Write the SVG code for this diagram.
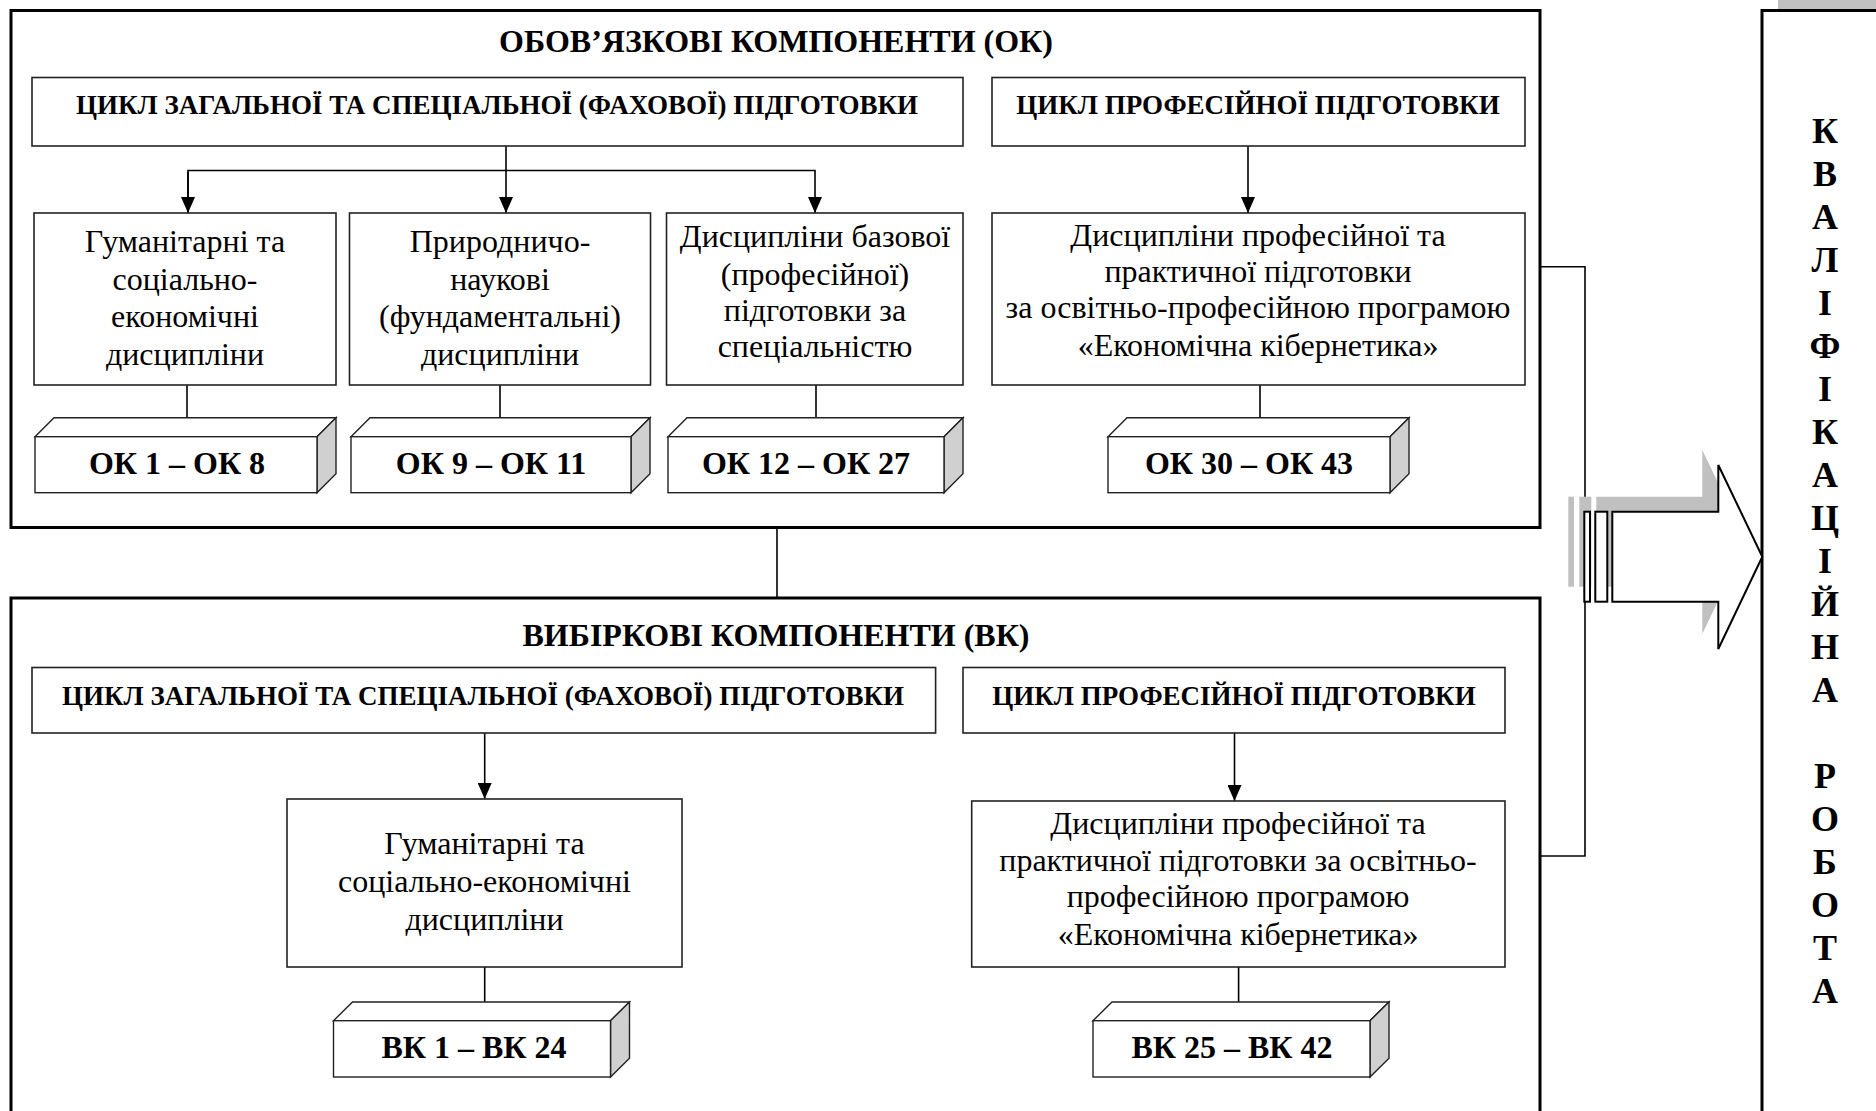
<svg xmlns="http://www.w3.org/2000/svg" width="1876" height="1111" viewBox="0 0 1876 1111">
<style>
.outer{fill:#fff;stroke:#000;stroke-width:3}
.box{fill:#fff;stroke:#222;stroke-width:1.6}
.face{fill:#fff;stroke:#222;stroke-width:1.4}
.side{fill:#d0d0d0;stroke:#222;stroke-width:1.4}
.ln{fill:none;stroke:#000;stroke-width:1.6}
.t{font-family:"Liberation Serif","Times New Roman",serif;fill:#000;text-anchor:middle}
.h1{font-size:32px;font-weight:bold}
.h2{font-size:27px;font-weight:bold}
.b{font-size:32px}
.k{font-size:32px;font-weight:bold}
.v{font-size:36px;font-weight:bold}
.sh{fill:#c0c0c0;stroke:none}
.ar{fill:#fff;stroke:#000;stroke-width:2}
</style>
<defs>
<marker id="ah" markerUnits="userSpaceOnUse" markerWidth="16" markerHeight="14" refX="16" refY="7" orient="auto">
<path d="M0,0 L16,7 L0,14 z" fill="#000"/>
</marker>
</defs>

<rect width="1876" height="1111" fill="#fff"/>

<!-- Right box: qualification work -->
<g id="qual">
<rect x="1778" y="-6" width="200" height="1200" class="sh"/>
<rect x="1762" y="10.5" width="200" height="1200" class="outer"/>
<g class="t v">
<text x="1825" y="143">К</text>
<text x="1825" y="186">В</text>
<text x="1825" y="229">А</text>
<text x="1825" y="272">Л</text>
<text x="1825" y="315">І</text>
<text x="1825" y="358">Ф</text>
<text x="1825" y="401">І</text>
<text x="1825" y="444">К</text>
<text x="1825" y="487">А</text>
<text x="1825" y="530">Ц</text>
<text x="1825" y="573">І</text>
<text x="1825" y="616">Й</text>
<text x="1825" y="659">Н</text>
<text x="1825" y="702">А</text>
<text x="1825" y="788">Р</text>
<text x="1825" y="831">О</text>
<text x="1825" y="874">Б</text>
<text x="1825" y="917">О</text>
<text x="1825" y="960">Т</text>
<text x="1825" y="1003">А</text>
</g>
</g>

<!-- Top outer box -->
<g id="ok">
<rect x="11" y="10.5" width="1529" height="517" class="outer"/>
<text x="776" y="52" class="t h1">ОБОВ’ЯЗКОВІ КОМПОНЕНТИ (ОК)</text>
</g>

<!-- Bottom outer box -->
<g id="vk">
<rect x="11" y="598" width="1529" height="540" class="outer"/>
<text x="776" y="646" class="t h1">ВИБІРКОВІ КОМПОНЕНТИ (ВК)</text>
</g>

<!-- Connectors -->
<g id="connectors">
<line x1="777" y1="528" x2="777" y2="598" class="ln"/>
<polyline points="1540,266.7 1585,266.7 1585,856 1540,856" class="ln"/>
<line x1="506" y1="146" x2="506" y2="213" class="ln" marker-end="url(#ah)"/>
<polyline points="188,213 188,170.5 815,170.5 815,213" class="ln" marker-end="url(#ah)"/>
<line x1="188" y1="172" x2="188" y2="213" class="ln" marker-end="url(#ah)"/>
<line x1="1248" y1="146" x2="1248" y2="213" class="ln" marker-end="url(#ah)"/>
<line x1="187" y1="385" x2="187" y2="417.7" class="ln"/>
<line x1="500" y1="385" x2="500" y2="417.7" class="ln"/>
<line x1="816" y1="385" x2="816" y2="417.7" class="ln"/>
<line x1="1260" y1="385" x2="1260" y2="417.7" class="ln"/>
<line x1="484.7" y1="733" x2="484.7" y2="799" class="ln" marker-end="url(#ah)"/>
<line x1="1234.5" y1="733" x2="1234.5" y2="801" class="ln" marker-end="url(#ah)"/>
<line x1="484.7" y1="967" x2="484.7" y2="1002" class="ln"/>
<line x1="1238.6" y1="967" x2="1238.6" y2="1002" class="ln"/>
</g>

<!-- Big hollow arrow -->
<g id="bigarrow">
<g transform="translate(-16,-15)">
<rect x="1584.3" y="511.7" width="5.7" height="90" class="sh"/>
<rect x="1595.3" y="511.7" width="12" height="90" class="sh"/>
<polygon points="1612.3,511.7 1718.3,511.7 1718.3,465 1762.3,556.7 1718.3,649 1718.3,601.7 1612.3,601.7" class="sh"/>
</g>
<rect x="1584.3" y="511.7" width="5.7" height="90" class="ar"/>
<rect x="1595.3" y="511.7" width="12" height="90" class="ar"/>
<polygon points="1612.3,511.7 1718.3,511.7 1718.3,465 1762.3,556.7 1718.3,649 1718.3,601.7 1612.3,601.7" class="ar"/>
</g>

<!-- OK cycle headers -->
<g id="ok-cycle-gen">
<rect x="32" y="77.5" width="931" height="68.5" class="box"/>
<text x="497" y="114" class="t h2">ЦИКЛ ЗАГАЛЬНОЇ ТА СПЕЦІАЛЬНОЇ (ФАХОВОЇ) ПІДГОТОВКИ</text>
</g>
<g id="ok-cycle-prof">
<rect x="992" y="77.5" width="533" height="68.5" class="box"/>
<text x="1258" y="114" class="t h2">ЦИКЛ ПРОФЕСІЙНОЇ ПІДГОТОВКИ</text>
</g>

<g id="ok-hum">
<rect x="34" y="213" width="302" height="172" class="box"/>
<g class="t b">
<text x="185" y="252">Гуманітарні та</text>
<text x="185" y="290">соціально-</text>
<text x="185" y="327">економічні</text>
<text x="185" y="365">дисципліни</text>
</g>
</g>
<g id="ok-nat">
<rect x="349.5" y="213" width="301" height="172" class="box"/>
<g class="t b">
<text x="500" y="252">Природничо-</text>
<text x="500" y="290">наукові</text>
<text x="500" y="327">(фундаментальні)</text>
<text x="500" y="365">дисципліни</text>
</g>
</g>
<g id="ok-base">
<rect x="666.5" y="213" width="296.5" height="172" class="box"/>
<g class="t b">
<text x="815" y="247">Дисципліни базової</text>
<text x="815" y="285">(професійної)</text>
<text x="815" y="321">підготовки за</text>
<text x="815" y="357">спеціальністю</text>
</g>
</g>
<g id="ok-prof">
<rect x="992" y="213" width="533" height="172" class="box"/>
<g class="t b">
<text x="1258" y="246">Дисципліни професійної та</text>
<text x="1258" y="282">практичної підготовки</text>
<text x="1258" y="318">за освітньо-професійною програмою</text>
<text x="1258" y="356">«Економічна кібернетика»</text>
</g>
</g>

<!-- OK 3D boxes -->
<g id="ok1">
<polygon points="35,436.7 54,417.7 336,417.7 317,436.7" class="face"/>
<polygon points="317,436.7 336,417.7 336,473.7 317,492.7" class="side"/>
<rect x="35" y="436.7" width="282" height="56" class="face"/>
<text x="177" y="474" class="t k">ОК 1 – ОК 8</text>
</g>
<g id="ok2">
<polygon points="351,436.7 370,417.7 650,417.7 631,436.7" class="face"/>
<polygon points="631,436.7 650,417.7 650,473.7 631,492.7" class="side"/>
<rect x="351" y="436.7" width="280" height="56" class="face"/>
<text x="491" y="474" class="t k">ОК 9 – ОК 11</text>
</g>
<g id="ok3">
<polygon points="668,436.7 687,417.7 963,417.7 944,436.7" class="face"/>
<polygon points="944,436.7 963,417.7 963,473.7 944,492.7" class="side"/>
<rect x="668" y="436.7" width="276" height="56" class="face"/>
<text x="806" y="474" class="t k">ОК 12 – ОК 27</text>
</g>
<g id="ok4">
<polygon points="1108,436.7 1127,417.7 1409,417.7 1390,436.7" class="face"/>
<polygon points="1390,436.7 1409,417.7 1409,473.7 1390,492.7" class="side"/>
<rect x="1108" y="436.7" width="282" height="56" class="face"/>
<text x="1249" y="474" class="t k">ОК 30 – ОК 43</text>
</g>

<!-- VK -->
<g id="vk-cycle-gen">
<rect x="32" y="667.5" width="903.6" height="65.5" class="box"/>
<text x="483" y="705" class="t h2">ЦИКЛ ЗАГАЛЬНОЇ ТА СПЕЦІАЛЬНОЇ (ФАХОВОЇ) ПІДГОТОВКИ</text>
</g>
<g id="vk-cycle-prof">
<rect x="963" y="667.5" width="542" height="65.5" class="box"/>
<text x="1234" y="705" class="t h2">ЦИКЛ ПРОФЕСІЙНОЇ ПІДГОТОВКИ</text>
</g>
<g id="vk-hum">
<rect x="287" y="799" width="395" height="168" class="box"/>
<g class="t b">
<text x="484.5" y="854">Гуманітарні та</text>
<text x="484.5" y="892">соціально-економічні</text>
<text x="484.5" y="930">дисципліни</text>
</g>
</g>
<g id="vk-prof">
<rect x="971.7" y="801" width="533.3" height="166" class="box"/>
<g class="t b">
<text x="1238" y="834">Дисципліни професійної та</text>
<text x="1238" y="871">практичної підготовки за освітньо-</text>
<text x="1238" y="907">професійною програмою</text>
<text x="1238" y="945">«Економічна кібернетика»</text>
</g>
</g>
<g id="vk1">
<polygon points="333.5,1020.7 352.5,1002 629.5,1002 610.5,1020.7" class="face"/>
<polygon points="610.5,1020.7 629.5,1002 629.5,1058.3 610.5,1077" class="side"/>
<rect x="333.5" y="1020.7" width="277" height="56.3" class="face"/>
<text x="474" y="1058" class="t k">ВК 1 – ВК 24</text>
</g>
<g id="vk2">
<polygon points="1093,1020.7 1112,1002 1389,1002 1370,1020.7" class="face"/>
<polygon points="1370,1020.7 1389,1002 1389,1058.3 1370,1077" class="side"/>
<rect x="1093" y="1020.7" width="277" height="56.3" class="face"/>
<text x="1232" y="1058" class="t k">ВК 25 – ВК 42</text>
</g>
</svg>
